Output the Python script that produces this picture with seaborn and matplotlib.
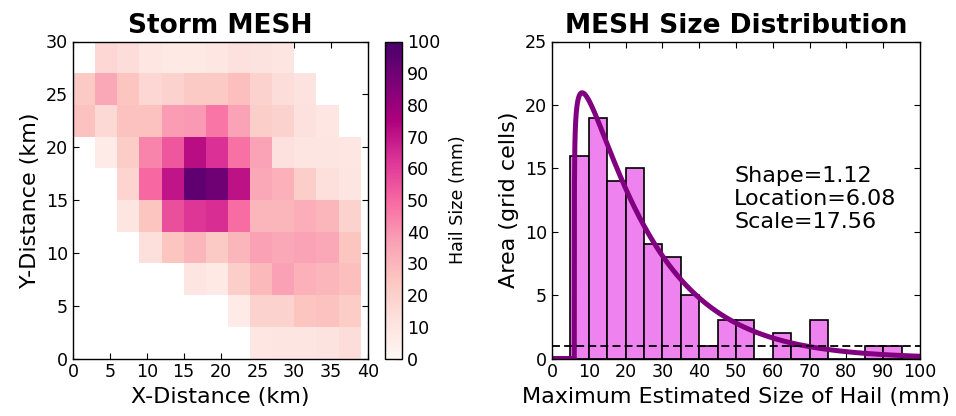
import math
import numpy as np
import matplotlib
matplotlib.use("Agg")
import matplotlib.pyplot as plt
import seaborn as sns

# ---- Storm MESH grid (3 km cells, rows listed top to bottom, NaN = no hail) ----
nan = np.nan
cell_km = 3
mesh_rows_top_down = [
    [nan, 17, 14,  9,  8,  8,  9, 12, 11, 10, nan, nan, nan],   # 27-30 km
    [23,  35, 25, 17, 19, 23, 23, 27, 19, 14, 11, nan, nan],    # 24-27 km
    [26,  16, 26, 26, 38, 39, 47, 36, 21, 19, 12,  9, nan],     # 21-24 km
    [nan,  7, 22, 44, 54, 72, 63, 48, 36, 12, 10, 10,  9],      # 18-21 km
    [nan, nan, 18, 50, 70, 94, 90, 71, 35, 32, 21, 13, 10],     # 15-18 km
    [nan, nan, 10, 25, 56, 62, 64, 49, 30, 30, 33, 30, 19],     # 12-15 km
    [nan, nan, nan, 13, 25, 30, 23, 30, 37, 35, 36, 35, 25],    # 9-12 km
    [nan, nan, nan, nan, nan, 10,  8, 21, 29, 37, 32, 30, 27],  # 6-9 km
    [nan, nan, nan, nan, nan, nan, nan, 7, 19, 19, 25, 26, 22], # 3-6 km
    [nan, nan, nan, nan, nan, nan, nan, nan, 9, 10, 10, 11, 14],# 0-3 km
]

# ---- MESH size distribution (5 mm bins) ----
bin_edges = list(range(0, 105, 5))
bin_counts = [0, 16, 19, 14, 15, 9, 8, 5, 1, 3, 3, 0, 2, 1, 3, 0, 0, 1, 1, 0]

# fitted gamma parameters
gamma_shape = 1.12
gamma_loc = 6.08
gamma_scale = 17.56

sns.set_style("ticks")
plt.rcParams.update({
    "font.family": ["DejaVu Sans"],
    "text.color": "black",
    "axes.labelcolor": "black",
    "axes.titlecolor": "black",
    "xtick.labelcolor": "black",
    "ytick.labelcolor": "black",
    "xtick.direction": "in",
    "ytick.direction": "in",
    "xtick.top": True,
    "ytick.right": True,
    "xtick.major.size": 4.5,
    "ytick.major.size": 4.5,
    "axes.linewidth": 1.0,
    "axes.edgecolor": "black",
    "xtick.color": "black",
    "ytick.color": "black",
})

fig = plt.figure(figsize=(9.56, 4.16), dpi=100)
W, H = 956, 416


def box(x0, y0, x1, y1):
    return [x0 / W, 1 - y1 / H, (x1 - x0) / W, (y1 - y0) / H]


ax1 = fig.add_axes(box(73, 41.5, 368, 358.5))
cax = fig.add_axes(box(385, 41.5, 402, 358.5))
ax2 = fig.add_axes(box(552, 41.5, 920, 358.5))

tick_fs = 12.6
label_fs = 16
title_fs = 19

# ---- left: heatmap ----
grid = np.ma.masked_invalid(np.array(mesh_rows_top_down[::-1], dtype=float))
ncols = grid.shape[1]
nrows = grid.shape[0]
x_edges = np.arange(ncols + 1) * cell_km
y_edges = np.arange(nrows + 1) * cell_km
pm = ax1.pcolormesh(x_edges, y_edges, grid, cmap="RdPu", vmin=0, vmax=100,
                    shading="flat")
ax1.set_xlim(0, 40)
ax1.set_ylim(0, 30)
ax1.set_xticks(range(0, 41, 5))
ax1.set_yticks(range(0, 31, 5))
ax1.tick_params(labelsize=tick_fs)
ax1.set_xlabel("X-Distance (km)", fontsize=label_fs)
ax1.set_ylabel("Y-Distance (km)", fontsize=label_fs)
ax1.set_title("Storm MESH", fontsize=title_fs, fontweight="bold")

cb = fig.colorbar(pm, cax=cax, ticks=range(0, 101, 10))
cb.outline.set_linewidth(1.0)
cb.outline.set_edgecolor("black")
cax.tick_params(direction="in", labelsize=tick_fs, length=4.5, right=True)
cb.set_label("Hail Size (mm)", fontsize=tick_fs, labelpad=6)

# ---- right: histogram + gamma fit ----
bin_mids = [(a + b) / 2 for a, b in zip(bin_edges[:-1], bin_edges[1:])]
sns.histplot(x=bin_mids, weights=bin_counts, bins=bin_edges, color="violet",
             edgecolor="black", linewidth=1.2, alpha=1, ax=ax2)

n_total = sum(bin_counts)
bin_w = bin_edges[1] - bin_edges[0]
xs = np.linspace(0, 100, 2000)
norm = math.gamma(gamma_shape) * gamma_scale
ys = []
for x in xs:
    z = (x - gamma_loc) / gamma_scale
    if z <= 0:
        ys.append(0.0)
    else:
        ys.append(z ** (gamma_shape - 1) * math.exp(-z) / norm * n_total * bin_w)
sns.lineplot(x=xs, y=ys, color="purple", linewidth=3.6, ax=ax2)

ax2.axhline(1, color="black", linewidth=1.3, linestyle=(0, (4.4, 2.3)))
ax2.text(49.5, 12.6, f"Shape={gamma_shape:.2f}\nLocation={gamma_loc:.2f}\nScale={gamma_scale:.2f}",
         fontsize=16, va="center", ha="left")

ax2.set_xlim(0, 100)
ax2.set_ylim(0, 25)
ax2.set_xticks(range(0, 101, 10))
ax2.set_yticks(range(0, 26, 5))
ax2.tick_params(labelsize=tick_fs)
ax2.set_xlabel("Maximum Estimated Size of Hail (mm)", fontsize=label_fs)
ax2.set_ylabel("Area (grid cells)", fontsize=label_fs)
ax2.set_title("MESH Size Distribution", fontsize=title_fs, fontweight="bold")

for a in (ax1, ax2):
    for s in a.spines.values():
        s.set_visible(True)
        s.set_linewidth(1.0)
        s.set_color("black")

fig.savefig("out.png", dpi=100)
